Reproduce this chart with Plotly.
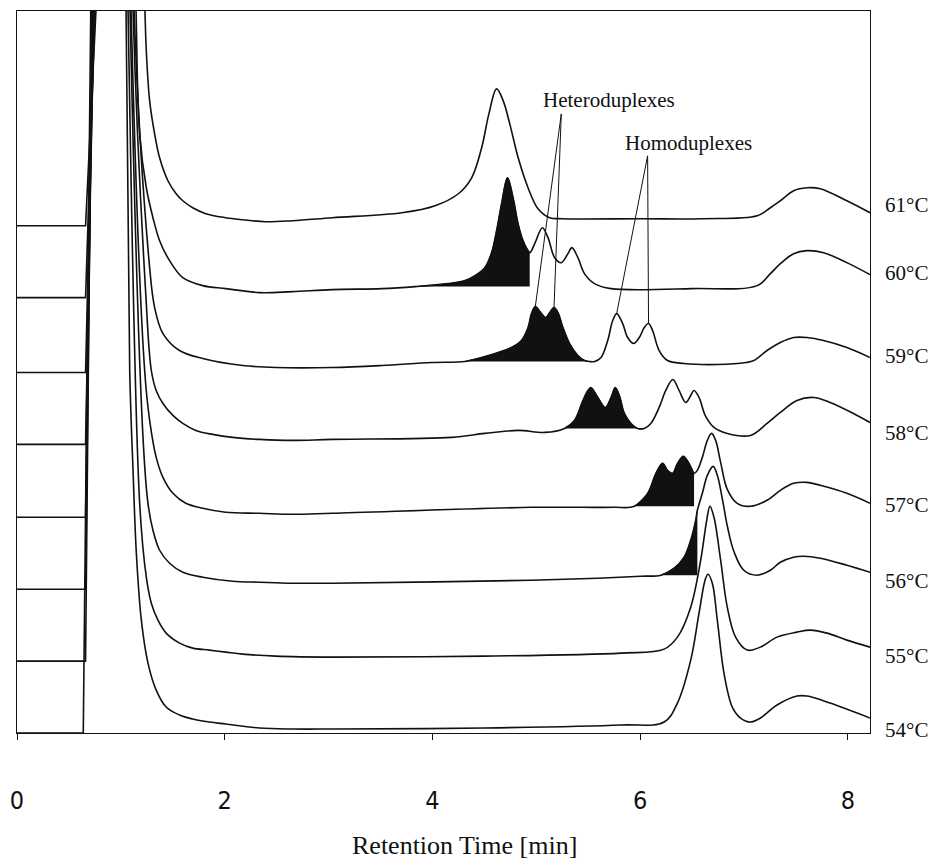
import plotly.graph_objects as go

# ---------------- data ----------------
temperatures = ["54°C", "55°C", "56°C", "57°C", "58°C", "59°C", "60°C", "61°C"]
baseline_offsets = [0, 72, 144, 216, 289, 361, 436, 508]   # vertical stacking of traces (signal units)

t_54 = [0, 0.638, 0.71, 0.92, 1.050, 1.085, 1.117, 1.149, 1.197, 1.261, 1.340, 1.436, 1.565, 1.692, 1.852, 2.009, 2.335, 2.651, 3.035,
        4.5, 5.815, 6.230, 6.358, 6.486, 6.566, 6.624, 6.652, 6.694, 6.742, 6.806, 6.886, 6.966, 7.060, 7.157, 7.317, 7.509, 7.605, 7.828, 8.212]
s_54 = [0, 0, 723, 1800, 723, 363, 263, 180, 113, 70, 43, 26, 18, 14, 11, 9, 5, 4, 4,
        5, 8, 11, 30, 73, 120, 153, 159, 150, 113, 60, 26, 15, 11, 15, 28, 37, 37, 30, 15]

t_55 = [0, 0.66, 0.72, 0.92, 1.069, 1.181, 1.245, 1.293, 1.357, 1.436, 1.565, 1.692, 1.852, 2.009, 2.172, 2.488, 3.035,
        4.5, 5.815, 6.230, 6.358, 6.486, 6.582, 6.640, 6.671, 6.710, 6.774, 6.838, 6.918, 7.030, 7.157, 7.317, 7.509, 7.637, 7.797, 7.989, 8.212]
s_55 = [0, 0, 651, 1800, 651, 158, 84, 58, 41, 28, 18, 13, 11, 9, 7, 5, 4,
        5, 8, 12, 24, 54, 101, 141, 155, 144, 101, 54, 24, 11, 14, 24, 29, 31, 28, 21, 14]

t_56 = [0, 0.66, 0.725, 0.92, 1.088, 1.213, 1.261, 1.309, 1.373, 1.469, 1.596, 1.788, 2.076, 2.335, 2.651, 3.035,
        4.952, 5.592, 6.007, 6.199, 6.326, 6.422, 6.486, 6.534, 6.550, 6.598, 6.646, 6.702, 6.742, 6.793, 6.841, 6.901, 6.997,
        7.126, 7.253, 7.349, 7.477, 7.573, 7.733, 7.989, 8.212]
s_56 = [0, 0, 579, 1800, 579, 152, 86, 59, 39, 26, 17, 12, 8, 7, 6, 6,
        9, 11, 13, 14, 21, 32, 49, 69, 79, 96, 114, 123, 114, 89, 62, 38, 19,
        14, 19, 27, 32, 33, 31, 24, 17]

t_57 = [0, 0.66, 0.73, 0.92, 1.098, 1.229, 1.277, 1.340, 1.405, 1.501, 1.625, 1.788, 2.009, 2.335, 2.651, 3.035,
        4.952, 5.432, 5.751, 5.943, 6.071, 6.151, 6.215, 6.263, 6.311, 6.359, 6.414, 6.470, 6.518, 6.550, 6.598, 6.646, 6.687,
        6.726, 6.774, 6.838, 6.934, 7.061, 7.221, 7.349, 7.477, 7.605, 7.733, 7.989, 8.212]
s_57 = [0, 0, 507, 1800, 507, 147, 97, 60, 40, 24, 14, 9, 5, 4, 3, 4,
        10, 10, 10, 11, 24, 44, 54, 47, 44, 54, 61, 54, 44, 47, 60, 77, 84,
        77, 55, 28, 14, 11, 17, 27, 34, 35, 32, 24, 14]

t_58 = [0, 0.66, 0.74, 0.92, 1.117, 1.24, 1.293, 1.340, 1.405, 1.501, 1.596, 1.721, 1.884, 2.076, 2.335, 2.651, 3.035,
        4.185, 4.504, 4.825, 5.080, 5.271, 5.367, 5.448, 5.496, 5.525, 5.592, 5.664, 5.719, 5.759, 5.799, 5.847, 5.911, 5.975,
        6.038, 6.102, 6.182, 6.246, 6.314, 6.374, 6.438, 6.486, 6.518, 6.566, 6.630, 6.710, 6.838, 7.061, 7.221, 7.349, 7.509,
        7.668, 7.828, 8.052, 8.212]
s_58 = [0, 0, 434, 1800, 434, 150, 74, 54, 41, 29, 21, 14, 10, 7, 5, 4, 5,
        7, 11, 14, 12, 16, 24, 44, 54, 57, 47, 37, 47, 57, 49, 31, 21, 16,
        16, 21, 37, 54, 65, 54, 42, 49, 54, 47, 28, 17, 11, 9, 21, 32, 44,
        47, 42, 31, 22]

t_59 = [0, 0.66, 0.745, 0.92, 1.127, 1.277, 1.325, 1.405, 1.565, 1.788, 2.172, 2.491, 3.035,
        3.514, 3.993, 4.313, 4.473, 4.633, 4.760, 4.856, 4.920, 4.953, 4.990, 5.042, 5.090, 5.128, 5.170, 5.208, 5.256, 5.320,
        5.400, 5.464, 5.511, 5.560, 5.623, 5.687, 5.735, 5.773, 5.831, 5.879, 5.937, 5.991, 6.039, 6.080, 6.119, 6.182, 6.263,
        6.422, 6.741, 7.020, 7.093, 7.221, 7.349, 7.477, 7.605, 7.765, 7.989, 8.212]
s_59 = [0, 0, 362, 1800, 362, 105, 65, 39, 22, 14, 7, 5, 5,
        7, 10, 11, 15, 20, 25, 32, 45, 59, 66, 60, 55, 60, 65, 60, 45, 29,
        17, 12, 11, 11, 15, 32, 52, 59, 49, 35, 29, 35, 45, 49, 42, 22, 12,
        9, 8, 10, 12, 22, 30, 35, 35, 32, 25, 15]

t_60 = [0, 0.66, 0.75, 0.92, 1.146, 1.181, 1.245, 1.309, 1.373, 1.469, 1.596, 1.788, 2.009, 2.335, 2.651, 3.035,
        3.514, 3.833, 4.153, 4.313, 4.408, 4.504, 4.569, 4.617, 4.665, 4.722, 4.776, 4.824, 4.872, 4.936, 4.984, 5.058, 5.112,
        5.176, 5.240, 5.304, 5.342, 5.400, 5.463, 5.559, 5.719, 6.500, 7.126, 7.253, 7.349, 7.477, 7.605, 7.765, 7.989, 8.212]
s_60 = [0, 0, 287, 1800, 287, 164, 110, 80, 57, 37, 20, 12, 9, 5, 6, 8,
        9, 11, 14, 17, 22, 30, 45, 67, 94, 120, 100, 74, 57, 45, 54, 70, 60,
        40, 35, 44, 50, 40, 24, 14, 9, 9, 12, 24, 34, 44, 47, 45, 35, 23]

t_61 = [0, 0.66, 0.76, 0.92, 1.232, 1.245, 1.277, 1.325, 1.373, 1.453, 1.532, 1.596, 1.692, 1.817, 2.009, 2.172, 2.392, 2.651, 3.035,
        3.706, 4.025, 4.249, 4.377, 4.473, 4.543, 4.617, 4.681, 4.744, 4.825, 4.920, 5.016, 5.128, 5.240, 6.000, 6.600,
        7.126, 7.253, 7.349, 7.477, 7.605, 7.733, 7.989, 8.212]
s_61 = [0, 0, 215, 1800, 215, 175, 125, 92, 68, 45, 32, 25, 18, 12, 8, 6, 4, 5, 8,
        13, 20, 32, 48, 78, 112, 137, 125, 102, 68, 38, 17, 8, 7, 7, 7,
        10, 18, 25, 35, 38, 37, 25, 13]

traces_t = [t_54, t_55, t_56, t_57, t_58, t_59, t_60, t_61]
traces_s = [s_54, s_55, s_56, s_57, s_58, s_59, s_60, s_61]

# black-filled heteroduplex regions (start, end retention time) per trace
fill_windows = [None, None, (6.199, 6.550), (5.943, 6.518), (5.271, 6.038),
                (4.313, 5.511), (3.833, 4.936), None]

hetero_peak_times = [4.990, 5.170]   # peaks on the 59°C trace
homo_peak_times = [5.773, 6.080]     # peaks on the 59°C trace
pointer_trace = "59°C"

tick_values = [0, 2, 4, 6, 8]
tick_labels = ["0", "2", "4", "6", "8"]

# ---------------- figure ----------------
for tt, ss in zip(traces_t, traces_s):
    assert len(tt) == len(ss)

BLACK = "#111111"
SERIF = "Liberation Serif, Times New Roman, serif"
fig = go.Figure()

for k in range(len(temperatures)):
    t = traces_t[k]
    s = traces_s[k]
    off = baseline_offsets[k]
    y = [v + off for v in s]
    apex = s.index(max(s))

    win = fill_windows[k]
    if win:
        a, b = win
        idx = [i for i, tv in enumerate(t) if a - 1e-9 <= tv <= b + 1e-9]
        floor = s[idx[0]] + off
        fig.add_trace(go.Scatter(x=[a, b], y=[floor, floor], mode="lines",
                                 line=dict(width=0, color="rgba(0,0,0,0)"),
                                 hoverinfo="skip", showlegend=False))
        fig.add_trace(go.Scatter(x=[t[i] for i in idx], y=[y[i] for i in idx], mode="lines",
                                 line=dict(width=1, color=BLACK, shape="spline", smoothing=1.0),
                                 fill="tonexty", fillcolor=BLACK,
                                 hoverinfo="skip", showlegend=False))

    # baseline step + injection front (straight)
    fig.add_trace(go.Scatter(x=t[:apex + 1], y=y[:apex + 1], mode="lines",
                             line=dict(width=1.6, color=BLACK, shape="linear"),
                             name=temperatures[k], showlegend=False))
    # rest of the chromatogram (smooth)
    fig.add_trace(go.Scatter(x=t[apex:], y=y[apex:], mode="lines",
                             line=dict(width=1.6, color=BLACK, shape="spline", smoothing=1.0),
                             name=temperatures[k], showlegend=False))

# pointer lines to peaks
kp = temperatures.index(pointer_trace)


def peak_xy(tp):
    tt = traces_t[kp]
    i = min(range(len(tt)), key=lambda j: abs(tt[j] - tp))
    return tt[i], traces_s[kp][i] + baseline_offsets[kp]


shapes = []
for anchor, times in (((5.24, 620), hetero_peak_times), ((6.071, 578), homo_peak_times)):
    for tp in times:
        px, py = peak_xy(tp)
        shapes.append(dict(type="line", xref="x", yref="y", x0=anchor[0], y0=anchor[1],
                           x1=px, y1=py, line=dict(color=BLACK, width=1)))

annotations = [
    dict(text="Heteroduplexes", x=5.697, y=634, xref="x", yref="y", showarrow=False,
         xanchor="center", yanchor="middle", font=dict(family=SERIF, size=21, color=BLACK)),
    dict(text="Homoduplexes", x=6.465, y=591, xref="x", yref="y", showarrow=False,
         xanchor="center", yanchor="middle", font=dict(family=SERIF, size=21, color=BLACK)),
    dict(text="Retention Time [min]", x=0.5245, y=-0.156, xref="paper", yref="paper",
         showarrow=False, xanchor="center", yanchor="middle",
         font=dict(family=SERIF, size=26, color=BLACK)),
]
label_y = [0.0035, 0.1072, 0.2109, 0.3160, 0.4156, 0.5221, 0.6369, 0.7317]
for k, name in enumerate(temperatures):
    annotations.append(dict(text=name, x=1, y=label_y[k], xref="paper", yref="paper",
                            xanchor="left", yanchor="middle", xshift=13, showarrow=False,
                            font=dict(family=SERIF, size=21, color=BLACK)))

fig.update_layout(
    width=930, height=865,
    margin=dict(l=14, r=60, t=10, b=132),
    paper_bgcolor="white", plot_bgcolor="white",
    showlegend=False,
    shapes=shapes,
    annotations=annotations,
    xaxis=dict(range=[0, 8.212], tickmode="array", tickvals=tick_values, ticktext=tick_labels,
               ticks="outside", ticklen=6, tickcolor=BLACK, tickwidth=1,
               ticklabelstandoff=39,
               tickfont=dict(family="Liberation Sans Narrow, DejaVu Sans Condensed, Arial Narrow, sans-serif",
                             size=25, color=BLACK),
               showline=True, mirror=True, linecolor=BLACK, linewidth=1.3,
               showgrid=False, zeroline=False),
    yaxis=dict(range=[0, 723], showticklabels=False, ticks="",
               showline=True, mirror=True, linecolor=BLACK, linewidth=1.3,
               showgrid=False, zeroline=False),
)

fig.write_html("out.html", config={"displayModeBar": False},
               post_script="document.body.style.margin='0';document.body.style.overflow='hidden';")
